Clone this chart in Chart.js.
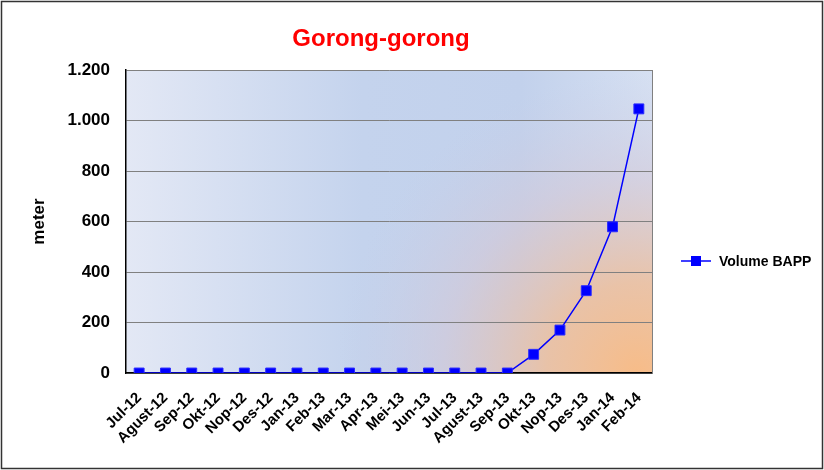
<!DOCTYPE html>
<html>
<head>
    <title>Gorong-gorong</title>
    <meta charset="utf-8">
    <script src="https://cdn.jsdelivr.net/npm/chart.js"></script>
    <style>
        body { margin: 0; background: #fff; }
        .chart-box { position: relative; width: 824px; height: 470px; }
    </style>
</head>
<body>
    <div class="chart-box">
        <canvas id="gorongChart"></canvas>
    </div>

    <script>
        // data
        const months = ['Jul-12', 'Agust-12', 'Sep-12', 'Okt-12', 'Nop-12', 'Des-12', 'Jan-13', 'Feb-13',
            'Mar-13', 'Apr-13', 'Mei-13', 'Jun-13', 'Jul-13', 'Agust-13', 'Sep-13', 'Okt-13',
            'Nop-13', 'Des-13', 'Jan-14', 'Feb-14'];
        const volumeBapp = [0, 0, 0, 0, 0, 0, 0, 0, 0, 0, 0, 0, 0, 0, 0, 74, 170, 326, 579, 1046];
        const yTicks = [0, 200, 400, 600, 800, 1000, 1200];

        const chartTitle = 'Gorong-gorong';
        const seriesName = 'Volume BAPP';
        const yTitle = 'meter';
        const FONT = 'Arial, "Liberation Sans", sans-serif';

        // white page, outer frame, plot area fill
        const backdrop = {
            id: 'backdrop',
            beforeDraw(chart) {
                const { ctx, chartArea: a } = chart;
                ctx.save();
                ctx.fillStyle = '#ffffff';
                ctx.fillRect(0, 0, chart.width, chart.height);

                const lin = ctx.createLinearGradient(a.left, 0, a.right, 0);
                lin.addColorStop(0, '#e3e8f5');
                lin.addColorStop(0.45, '#c4d3ed');
                lin.addColorStop(0.75, '#c2d1ec');
                lin.addColorStop(1, '#d6e0f2');
                ctx.fillStyle = lin;
                ctx.fillRect(a.left, a.top, a.right - a.left, a.bottom - a.top);

                const rad = ctx.createRadialGradient(a.right - 15, a.bottom, 0, a.right - 15, a.bottom, 300);
                rad.addColorStop(0, 'rgba(247,188,136,1)');
                rad.addColorStop(0.3, 'rgba(236,192,160,0.9)');
                rad.addColorStop(0.65, 'rgba(212,200,214,0.6)');
                rad.addColorStop(1, 'rgba(200,205,230,0)');
                ctx.fillStyle = rad;
                ctx.fillRect(a.left, a.top, a.right - a.left, a.bottom - a.top);

                ctx.strokeStyle = '#333333';
                ctx.lineWidth = 1.5;
                ctx.strokeRect(1.5, 1.5, chart.width - 3, chart.height - 3);
                ctx.restore();
            },
            afterDraw(chart) {
                const { ctx, chartArea: a } = chart;
                ctx.save();
                // right edge of plot area
                ctx.strokeStyle = '#808080';
                ctx.lineWidth = 1;
                ctx.beginPath();
                ctx.moveTo(a.right + 0.5, a.top);
                ctx.lineTo(a.right + 0.5, a.bottom);
                ctx.stroke();

                // title
                ctx.fillStyle = '#ff0000';
                ctx.font = 'bold 24px ' + FONT;
                ctx.textAlign = 'center';
                ctx.textBaseline = 'middle';
                ctx.fillText(chartTitle, 381, 39);

                // legend: line with square marker
                const ly = 261;
                ctx.strokeStyle = '#0000ff';
                ctx.lineWidth = 1.5;
                ctx.beginPath();
                ctx.moveTo(681, ly);
                ctx.lineTo(711, ly);
                ctx.stroke();
                ctx.fillStyle = '#0000ff';
                ctx.fillRect(691, ly - 5, 10, 10);
                ctx.fillStyle = '#000000';
                ctx.font = 'bold 14px ' + FONT;
                ctx.textAlign = 'left';
                ctx.fillText(seriesName, 719, ly + 1);
                ctx.restore();
            }
        };

        new Chart(document.getElementById('gorongChart'), {
            type: 'line',
            data: {
                labels: months,
                datasets: [{
                    label: seriesName,
                    data: volumeBapp,
                    borderColor: '#0000ff',
                    borderWidth: 1.5,
                    backgroundColor: '#0000ff',
                    pointStyle: 'rect',
                    pointRadius: 7,
                    pointBorderWidth: 1,
                    pointBorderColor: '#2a2aff',
                    pointBackgroundColor: '#0000ff',
                    tension: 0
                }]
            },
            options: {
                responsive: true,
                maintainAspectRatio: false,
                animation: false,
                layout: { padding: { top: 70, right: 172, left: 0, bottom: 0 } },
                plugins: {
                    legend: { display: false },
                    tooltip: { enabled: false }
                },
                scales: {
                    x: {
                        offset: true,
                        grid: { display: false },
                        border: { display: true, color: '#000000', width: 1.5 },
                        ticks: {
                            color: '#000000',
                            font: { family: FONT, size: 15, weight: 'bold' },
                            maxRotation: 45,
                            minRotation: 45,
                            autoSkip: false,
                            padding: 8
                        },
                        afterFit(scale) { scale.height = 97; }
                    },
                    y: {
                        min: 0,
                        max: 1200,
                        afterBuildTicks(scale) { scale.ticks = yTicks.map(v => ({ value: v })); },
                        grid: { color: '#808080', lineWidth: 1, drawTicks: false },
                        border: { display: true, color: '#000000', width: 1.5 },
                        ticks: {
                            color: '#000000',
                            font: { family: FONT, size: 17, weight: 'bold' },
                            padding: 16,
                            callback: v => v.toLocaleString('de-DE')
                        },
                        title: {
                            display: true,
                            text: yTitle,
                            color: '#000000',
                            font: { family: FONT, size: 17, weight: 'bold' },
                            padding: { top: 29, bottom: 0 }
                        },
                        afterFit(scale) { scale.width = 126; }
                    }
                }
            },
            plugins: [backdrop]
        });
    </script>
</body>
</html>
